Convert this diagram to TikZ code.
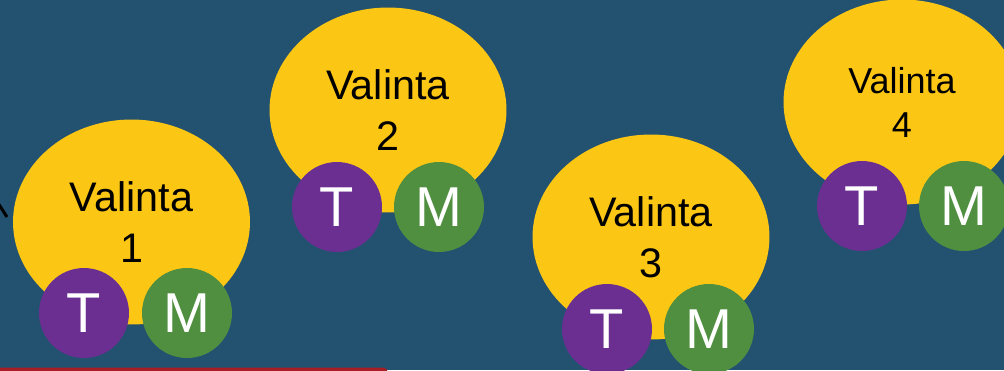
\documentclass[tikz,border=0pt]{standalone}
\usepackage{fontspec}
\setmainfont{Liberation Sans}
\usepackage{tikz}
\usetikzlibrary{positioning, shapes}
\definecolor{tausta}{RGB}{35, 81, 112}
\definecolor{keltainen}{RGB}{252, 198, 21}
\definecolor{violetti}{RGB}{107, 47, 146}
\definecolor{vihrea}{RGB}{79, 143, 63}
\definecolor{punainen}{RGB}{168, 30, 36}
\tikzset{
    choice/.style={ellipse, fill=keltainen, text=black, inner sep=0pt, minimum width=4.74cm, minimum height=4.1cm, align=center, font=\fontsize{23.5}{29}\selectfont},
    tcirc/.style={circle, fill=violetti, text=white, inner sep=0pt, minimum size=1.8cm, font=\fontsize{32}{38}\selectfont},
    mcirc/.style={circle, fill=vihrea, text=white, inner sep=0pt, minimum size=1.8cm, font=\fontsize{32}{38}\selectfont},
    conn/.style={-, black, line width=1.7pt},
}
\begin{document}
\begin{tikzpicture}[x=0.02cm, y=-0.02cm]
    \path[use as bounding box, fill=tausta] (0,0) rectangle (1004,370);
    \clip (0,0) rectangle (1004,370);

    \node [choice] (v1) at (131.5,222) {Valinta\\1};
    \node [tcirc] (t1) at (84,313) {T};
    \node [mcirc] (m1) at (187,313) {M};

    \node [choice] (v2) at (388,110) {Valinta\\2};
    \node [tcirc] (t2) at (337,207) {T};
    \node [mcirc] (m2) at (439,207) {M};

    \node [choice] (v3) at (651,237) {Valinta\\3};
    \node [tcirc] (t3) at (607,329) {T};
    \node [mcirc] (m3) at (709,329) {M};

    \node [choice, font=\fontsize{20.5}{25}\selectfont] (v4) at (902,102) {Valinta\\4};
    \node [tcirc] (t4) at (862,206) {T};
    \node [mcirc] (m4) at (964,206) {M};

    \coordinate (a1) at (-2,203);
    \coordinate (a2) at (7,217);
    \draw[conn] (a1) -- (a2);

    \fill[punainen, rounded corners=3pt] (-10,367.5) rectangle (388,380);
\end{tikzpicture}
\end{document}
